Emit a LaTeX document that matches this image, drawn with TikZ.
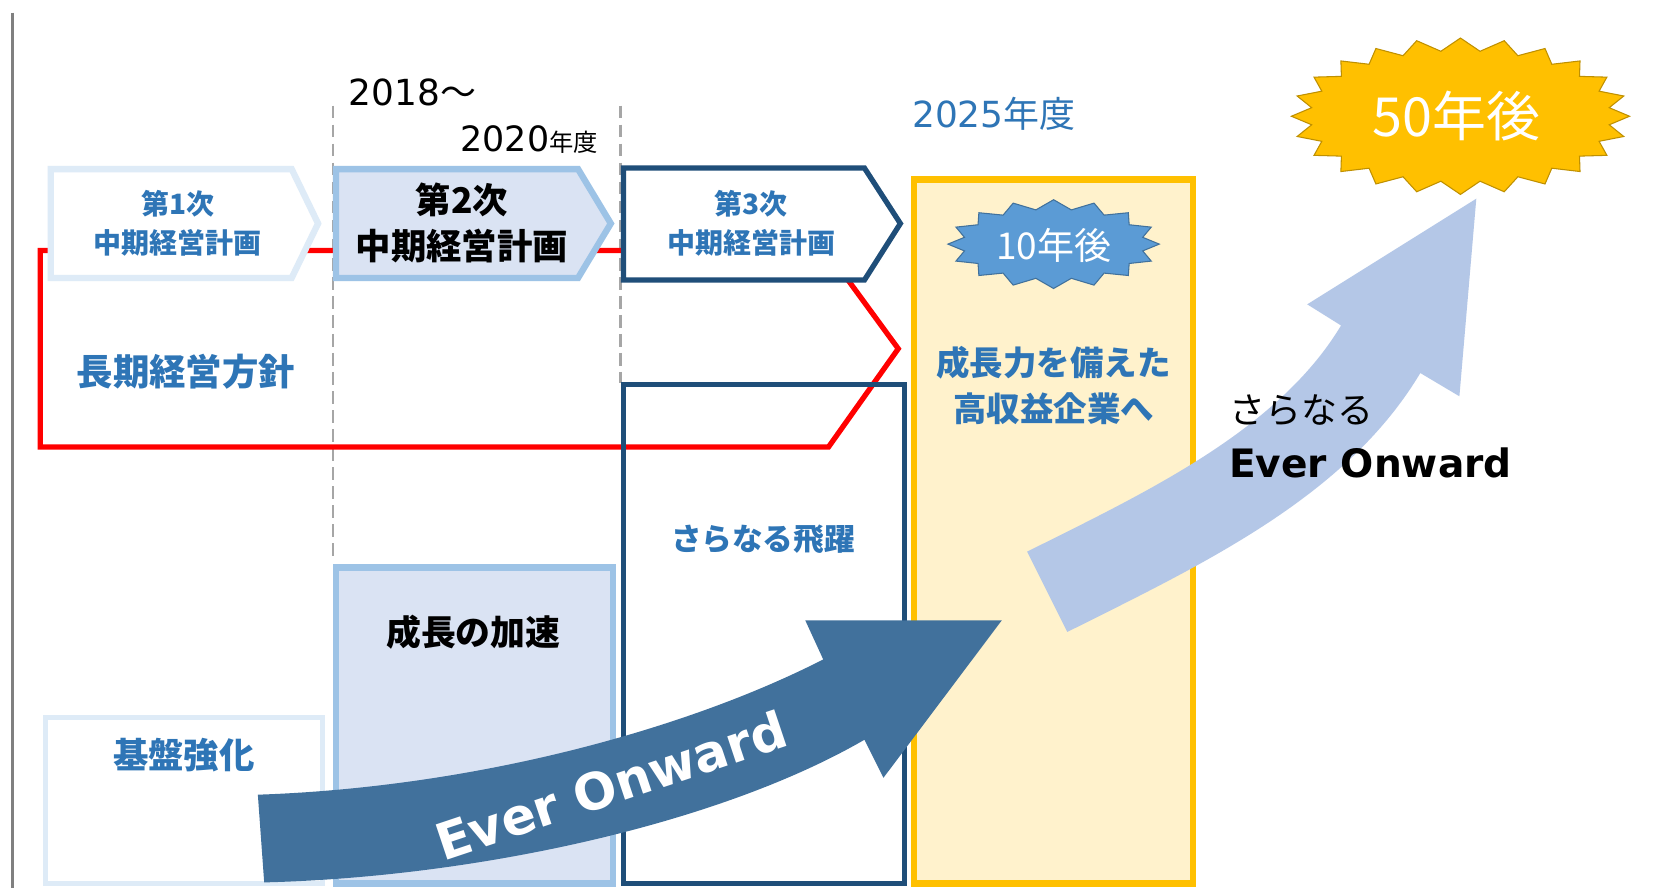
\documentclass[tikz,border=0pt]{standalone}
\usepackage{fontspec}
\newfontfamily\jp{Noto Sans CJK JP}
\newfontfamily\dv{DejaVu Sans}
\definecolor{tblue}{HTML}{2E75B6}
\definecolor{dkblue}{HTML}{1F4E79}
\definecolor{midblue}{HTML}{9DC3E6}
\definecolor{palefill}{HTML}{DAE3F3}
\definecolor{paleline}{HTML}{DEEBF7}
\definecolor{ylfill}{HTML}{FFF2CC}
\definecolor{ylline}{HTML}{FFC000}
\definecolor{ylstar}{HTML}{BF9000}
\definecolor{arrowdk}{HTML}{41719C}
\definecolor{arrowlt}{HTML}{B4C7E7}
\definecolor{burstb}{HTML}{5B9BD5}
\definecolor{dashgray}{HTML}{A6A6A6}
\definecolor{leftgray}{HTML}{808080}
\tikzset{
  lbl/.style={inner sep=0pt, align=center},
  bluelbl/.style={lbl, text=tblue},
  dashline/.style={draw=dashgray, line width=2.5pt, dash pattern=on 12pt off 6pt},
}
\begin{document}
\begin{tikzpicture}[x=1pt,y=-1pt]
\useasboundingbox (0,0) rectangle (1568,840);
\fill[white] (0,0) rectangle (1568,840);
% left gray line
\draw[leftgray, line width=3pt] (12,12) -- (12,840);
% dashed dividers
\draw[dashline] (315,100) -- (315,530);
\draw[dashline] (587,100) -- (587,362);
% red long-term policy pentagon
\draw[red, line width=5pt, line join=miter] (38,237) -- (782,237) -- (850,330) -- (784,423) -- (38,423) -- cycle;
% plan chevrons
\draw[draw=paleline, fill=white, line width=6pt] (48,160) -- (276,160) -- (301,211.5) -- (276,263) -- (48,263) -- cycle;
\draw[draw=midblue, fill=palefill, line width=6pt] (318,160) -- (547,160) -- (578,211.5) -- (547,263) -- (318,263) -- cycle;
\draw[draw=dkblue, fill=white, line width=5pt] (590,159) -- (818,159) -- (852,211.5) -- (818,265) -- (590,265) -- cycle;
% lower boxes
\draw[draw=midblue, fill=palefill, line width=6pt] (318,537) rectangle (580,836);
\draw[draw=paleline, fill=white, line width=5pt] (43,679) rectangle (305,836);
\draw[draw=dkblue, line width=5pt] (590,364) rectangle (856,836);
\draw[draw=ylline, fill=ylfill, line width=6pt] (865,170) rectangle (1129,836);
% texts
\node[lbl, anchor=base west, font=\dv\fontsize{34}{34}\selectfont] (t2018) at (330,100) {2018{\jp ～}};
\node[lbl, anchor=base east, font=\dv\fontsize{33}{33}\selectfont] (t2020) at (566,143) {2020{\jp\fontsize{23}{23}\selectfont 年度}};
\node[bluelbl, anchor=base west, font=\dv\fontsize{34}{34}\selectfont] (t2025) at (863,121) {2025{\jp\fontsize{34}{34}\selectfont 年度}};
\node[bluelbl, font=\jp\bfseries\fontsize{26.5}{37}\selectfont] (p1) at (168,211) {第1次\\中期経営計画};
\node[lbl, font=\jp\bfseries\fontsize{33.5}{44}\selectfont] (p2) at (437,211) {第2次\\中期経営計画};
\node[bluelbl, font=\jp\bfseries\fontsize{26.5}{37}\selectfont] (p3) at (711,211) {第3次\\中期経営計画};
\node[bluelbl, font=\jp\bfseries\fontsize{34.5}{34.5}\selectfont] (lt) at (176,352) {長期経営方針};
\node[lbl, font=\jp\bfseries\fontsize{33}{33}\selectfont] (acc) at (448,598) {成長の加速};
\node[bluelbl, font=\jp\bfseries\fontsize{33.5}{33.5}\selectfont] (base) at (174,715) {基盤強化};
\node[bluelbl, font=\jp\bfseries\fontsize{29}{29}\selectfont] (leap) at (722,510) {さらなる飛躍};
\node[bluelbl, font=\jp\bfseries\fontsize{31.7}{44}\selectfont] (goal) at (997,365) {成長力を備えた\\高収益企業へ};
% 10-year burst
\path[draw=arrowdk, fill=burstb, line width=1pt] (997,189)
  \foreach \j [evaluate=\j as \a using 90+(\j+0.5)*22.5, evaluate=\j as \b using 90+(\j+1)*22.5] in {0,...,15}
  { -- ({997+86*cos(\a)},{231-33*sin(\a)}) -- ({997+100*cos(\b)},{231-42*sin(\b)}) } -- cycle;
\node[lbl, text=white, font=\jp\fontsize{35}{35}\selectfont] (y10) at (997,232) {10年後};
% dark Ever Onward arrow
\fill[arrowdk] (244,752) .. controls (450,745) and (650,690) .. (779,624) -- (762,587) -- (948,587) -- (836,736) -- (818,700) .. controls (680,780) and (450,830) .. (250,835) -- cycle;
\node[lbl, text=white, rotate=18.5, font=\dv\bfseries\fontsize{48}{48}\selectfont] (eo1) at (578,743) {Ever Onward};
% light arrow
\fill[arrowlt] (972,522) .. controls (1082,467) and (1209,408) .. (1269,308) -- (1237,288) -- (1397,188) -- (1381,375) -- (1344,353) .. controls (1274,470) and (1140,533) .. (1010,598) -- cycle;
\node[lbl, anchor=west, font=\jp\fontsize{34}{34}\selectfont] (more) at (1163,388) {さらなる};
\node[lbl, anchor=west, font=\dv\bfseries\fontsize{37}{37}\selectfont] (eo2) at (1163,438) {Ever Onward};
% 50-year burst
\path[draw=ylstar, fill=ylline, line width=1pt] (1382,36)
  \foreach \j [evaluate=\j as \a using 90+(\j+0.5)*15, evaluate=\j as \b using 90+(\j+1)*15] in {0,...,23}
  { -- ({1382+142*cos(\a)},{110-62*sin(\a)}) -- ({1382+160*cos(\b)},{110-74*sin(\b)}) } -- cycle;
\node[lbl, text=white, font=\jp\fontsize{51}{51}\selectfont] (y50) at (1378,110) {50年後};
\end{tikzpicture}
\end{document}
